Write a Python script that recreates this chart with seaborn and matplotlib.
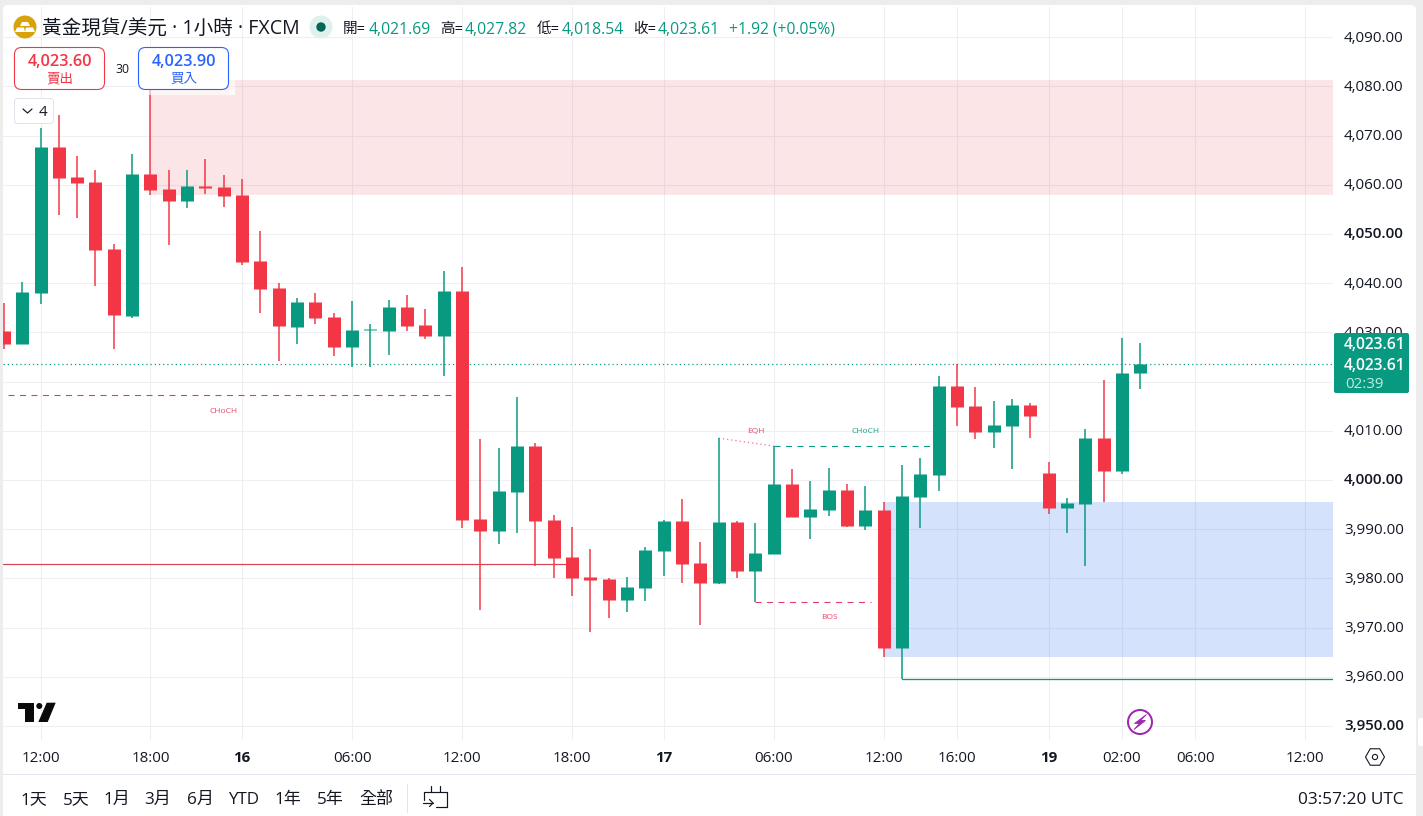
import matplotlib
matplotlib.use("Agg")
import matplotlib.pyplot as plt
from matplotlib.patches import Circle, FancyBboxPatch, Polygon, Rectangle
from matplotlib.transforms import ScaledTranslation
import numpy as np
import pandas as pd
import seaborn as sns

# Hourly XAU/USD candles
opens = [4030.3, 4027.6, 4038.1, 4067.7, 4061.6, 4060.6, 4046.9, 4033.3, 4062.2, 4059.1,
         4056.7, 4059.8, 4059.6, 4057.9, 4044.5, 4039.0, 4031.1, 4036.2, 4033.1, 4027.0,
         4030.4, 4030.3, 4035.2, 4031.5, 4029.3, 4038.4, 3992.1, 3989.6, 3997.6, 4006.9,
         3991.9, 3984.3, 3980.3, 3979.9, 3975.6, 3978.0, 3985.6, 3991.7, 3983.1, 3979.1,
         3991.5, 3981.5, 3985.0, 3999.2, 3992.5, 3993.9, 3998.0, 3990.7, 3993.9, 3965.9,
         3996.5, 4001.0, 4019.1, 4015.0, 4009.8, 4011.0, 4015.2, 4001.4, 3994.3, 3995.1,
         4008.5, 4001.8, 4021.69]
highs = [4036.0, 4040.2, 4071.5, 4074.2, 4065.9, 4063.0, 4048.0, 4066.3, 4079.3, 4063.0,
         4063.0, 4065.2, 4062.0, 4061.2, 4050.6, 4040.0, 4037.0, 4038.0, 4033.9, 4036.4,
         4031.7, 4036.6, 4037.6, 4034.8, 4042.5, 4043.3, 4008.3, 4006.5, 4016.9, 4007.5,
         3992.9, 3990.4, 3986.0, 3980.1, 3980.3, 3986.4, 3991.9, 3996.1, 3987.4, 4008.5,
         3991.7, 3991.3, 4006.9, 4002.2, 3999.8, 4002.4, 3999.2, 3998.8, 3995.5, 4003.0,
         4004.5, 4021.1, 4023.6, 4018.9, 4016.1, 4016.5, 4015.6, 4003.7, 3996.3, 4010.4,
         4020.3, 4028.9, 4027.82]
lows = [4026.6, 4027.6, 4035.8, 4053.9, 4053.3, 4039.4, 4026.6, 4033.0, 4057.9, 4047.8,
        4055.3, 4058.1, 4055.5, 4043.7, 4034.0, 4024.2, 4027.6, 4031.7, 4025.2, 4023.0,
        4023.0, 4025.4, 4030.3, 4028.7, 4021.2, 3990.2, 3973.6, 3987.0, 3989.2, 3982.5,
        3980.1, 3976.4, 3969.1, 3972.0, 3973.2, 3975.4, 3980.5, 3979.1, 3970.5, 3978.9,
        3980.1, 3975.2, 3985.0, 3992.5, 3988.0, 3992.7, 3990.4, 3989.8, 3964.0, 3959.6,
        3990.2, 3997.8, 4011.0, 4008.3, 4006.5, 4002.2, 4008.5, 3993.1, 3989.2, 3982.5,
        3995.5, 4001.2, 4018.54]
closes = [4027.6, 4038.2, 4067.7, 4061.4, 4060.4, 4046.8, 4033.6, 4062.2, 4058.9, 4056.7,
          4059.8, 4059.3, 4057.7, 4044.4, 4038.8, 4031.2, 4036.2, 4033.0, 4027.0, 4030.5,
          4030.6, 4035.2, 4031.3, 4029.3, 4038.4, 3991.9, 3989.6, 3997.8, 4006.9, 3991.7,
          3984.1, 3980.1, 3979.7, 3975.6, 3978.3, 3985.8, 3991.7, 3982.9, 3979.1, 3991.5,
          3981.5, 3985.2, 3999.2, 3992.5, 3994.1, 3998.0, 3990.7, 3993.9, 3965.9, 3996.7,
          4001.2, 4019.1, 4014.8, 4009.8, 4011.2, 4015.2, 4013.0, 3994.3, 3995.3, 4008.5,
          4001.8, 4021.7, 4023.61]
candle_is_up = [False, True, True, False, False, False, False, True, False, False,
                True, False, False, False, False, False, True, False, False, True,
                True, True, False, False, True, False, False, True, True, False,
                False, False, False, False, True, True, True, False, False, True,
                False, True, True, False, True, True, False, True, False, True,
                True, True, False, False, True, True, False, False, True, True,
                False, True, True]

# Time axis labels, placed on candle slots
time_slots = [2, 8, 13, 19, 25, 31, 36, 42, 48, 52, 57, 61, 65, 71]
time_labels = ["12:00", "18:00", "16", "06:00", "12:00", "18:00", "17", "06:00",
               "12:00", "16:00", "19", "02:00", "06:00", "12:00"]
bold_time_labels = ["16", "17", "19"]

price_ticks = [3950, 3960, 3970, 3980, 3990, 4000, 4010, 4020, 4030, 4040, 4050, 4060, 4070, 4080, 4090]
bold_price_ticks = [3950, 4000, 4050]
# This level sits underneath the last price badge
covered_price_ticks = [4020]

# Supply and demand zones (first slot, low, high)
supply_zone = (8, 4057.9, 4081.4)
demand_zone = (48, 3964.0, 3995.5)

last_price = 4023.61

RED = "#F23645"
GREEN = "#089981"
BLUE = "#2962FF"
INK = "#131722"
GRID = "#EDEFF3"
BORDER = "#E0E3EB"
FONT = ["Open Sans", "Noto Sans CJK TC", "DejaVu Sans"]

sns.set_theme(style="white")
plt.rcParams["font.family"] = FONT
plt.rcParams["lines.scale_dashes"] = False

W, H = 1423, 816
fig = plt.figure(figsize=(W / 100, H / 100), dpi=100, facecolor="#EDEDED")


def px(n):
    return n * 0.72


# White chart panel behind everything
panel = fig.add_axes([0, 0, 1, 1], zorder=0)
panel.set_xlim(0, W)
panel.set_ylim(H, 0)
panel.axis("off")
panel.add_patch(FancyBboxPatch((3, 5), 1413, 830, boxstyle="round,pad=0,rounding_size=5",
                               fc="white", ec="none"))
panel.add_patch(FancyBboxPatch((1418, 718), 12, 28, boxstyle="round,pad=0,rounding_size=3",
                               fc="white", ec="none"))

# Price pane
L, R, T, B = 3, 1333, 7, 740
ax = fig.add_axes([L / W, 1 - B / H, (R - L) / W, (B - T) / H], zorder=1)
ax.patch.set_alpha(0)
ax.set_xlim(-0.046, 72.51)
ax.set_ylim(3947.15, 4096.14)
for s in ax.spines.values():
    s.set_visible(False)

ax.set_yticks(price_ticks)
ax.set_yticklabels(["" if p in covered_price_ticks else f"{p:,.2f}" for p in price_ticks],
                   fontsize=10.9, color=INK)
ax.yaxis.tick_right()
ax.tick_params(axis="y", length=0, pad=px(11))
nudge_up = ScaledTranslation(0, 1 / 100, fig.dpi_scale_trans)
for lab, p in zip(ax.get_yticklabels(), price_ticks):
    lab.set_verticalalignment("center_baseline")
    lab.set_transform(lab.get_transform() + nudge_up)
    if p in bold_price_ticks:
        lab.set_fontweight("semibold")

ax.set_xticks(time_slots)
ax.set_xticklabels(time_labels, fontsize=10.9, color=INK)
ax.tick_params(axis="x", length=0, pad=px(11))
for lab in ax.get_xticklabels():
    if lab.get_text() in bold_time_labels:
        lab.set_fontweight("bold")
ax.grid(True, color=GRID, lw=px(1.1), zorder=0)
ax.set_axisbelow(True)

x_end = ax.get_xlim()[1]
x_start = ax.get_xlim()[0]

# Zones
ax.fill_between([supply_zone[0], x_end], supply_zone[1], supply_zone[2],
                color="#EB3A42", alpha=0.13, lw=0, zorder=1)
ax.fill_between([demand_zone[0], x_end], demand_zone[1], demand_zone[2],
                color="#286EF0", alpha=0.2, lw=0, zorder=1)

# Market structure lines
dash = (0, (px(6), px(5.5)))
dots = (0, (px(1.3), px(2.9)))
ax.plot([0.2, 24.6], [4017.2, 4017.2], color="#DF3B66", lw=px(1.1), ls=dash, zorder=2)
ax.plot([x_start, 31], [3983.0, 3983.0], color="#DB4254", lw=px(1.2), zorder=2)
ax.plot([39, 42], [4008.5, 4006.9], color="#EE7F96", lw=px(1.3), ls=dots, zorder=2)
ax.plot([42, 51], [4006.9, 4006.9], color=GREEN, lw=px(1.1), ls=dash, zorder=2)
ax.plot([41, 47.3], [3975.1, 3975.1], color="#DF3B66", lw=px(1.1), ls=dash, zorder=2)
ax.plot([49, x_end], [3959.6, 3959.6], color=GREEN, lw=px(1.3), zorder=2)
ax.plot([x_start, x_end], [last_price, last_price], color=GREEN, lw=px(1.2), ls=dots, zorder=2)

for slot, price, text, col in [(11.97, 4013.9, "CHoCH", "#E5476B"), (41.03, 4009.9, "EQH", "#E5476B"),
                               (47, 4009.9, "CHoCH", "#1E9E85"), (45.05, 3972.1, "BOS", "#E5476B")]:
    ax.text(slot, price, text, color=col, fontsize=6.0, ha="center", va="center", zorder=2)

# Candles: wicks and bodies as short vertical seaborn lines
slots = np.arange(len(opens))
direction = ["up" if u else "down" for u in candle_is_up]
palette = {"up": GREEN, "down": RED}
wicks = pd.DataFrame({"slot": np.r_[slots, slots], "price": np.r_[highs, lows],
                      "dir": direction * 2})
bodies = pd.DataFrame({"slot": np.r_[slots, slots], "price": np.r_[opens, closes],
                       "dir": direction * 2})
sns.lineplot(data=wicks, x="slot", y="price", hue="dir", units="slot", estimator=None,
             palette=palette, lw=px(1.5), legend=False, ax=ax, zorder=3,
             solid_capstyle="butt", sort=False)
sns.lineplot(data=bodies, x="slot", y="price", hue="dir", units="slot", estimator=None,
             palette=palette, lw=px(13), legend=False, ax=ax, zorder=4,
             solid_capstyle="butt", sort=False)
ax.set_xlabel("")
ax.set_ylabel("")

# Interface layer in pixel units
ui = fig.add_axes([0, 0, 1, 1], zorder=5)
ui.set_xlim(0, W)
ui.set_ylim(H, 0)
ui.axis("off")
ui.patch.set_alpha(0)


def label(x, y, s, size=14, color=INK, ha="left", weight="normal", alpha=1.0):
    ui.text(x, y, s, fontsize=px(size), color=color, ha=ha, va="center_baseline",
            fontweight=weight, alpha=alpha)


# Title row
ui.add_patch(Circle((25, 27), 11.5, fc="#D9A20B", ec="none"))
ui.add_patch(Polygon([(22, 22), (28, 22), (30, 26), (20, 26)], fc="white", ec="none"))
ui.add_patch(Polygon([(17, 27.5), (24, 27.5), (25, 32), (15, 32)], fc="white", ec="none"))
ui.add_patch(Polygon([(26, 27.5), (33, 27.5), (35, 32), (25, 32)], fc="white", ec="none"))
label(42, 27, "黃金現貨/美元 · 1小時 · FXCM", size=19.6)
ui.add_patch(Circle((321, 27), 11.5, fc="#DFF1EC", ec="none"))
ui.add_patch(Circle((321, 27), 4.7, fc="#056656", ec="none"))
for x_name, name, x_val, val in [(343, "開=", 369, "4,021.69"), (440, "高=", 465, "4,027.82"),
                                 (537, "低=", 562, "4,018.54"), (633, "收=", 658, "4,023.61")]:
    label(x_name, 27.5, name, size=14.6)
    label(x_val, 27.5, val, size=15.8, color=GREEN)
label(729, 27.5, "+1.92 (+0.05%)", size=15.6, color=GREEN)

# Buy and sell buttons
ui.add_patch(Rectangle((229, 79), 6, 16, fc="white", ec="none", alpha=0.6))
ui.add_patch(Rectangle((134, 90), 101, 5, fc="white", ec="none", alpha=0.6))
for x0, edge, price, caption in [(14.5, RED, "4,023.60", "賣出"), (138.5, BLUE, "4,023.90", "買入")]:
    ui.add_patch(FancyBboxPatch((x0, 47.5), 90, 42, boxstyle="round,pad=0,rounding_size=7",
                                fc="white", ec=edge, lw=px(1.1)))
    label(x0 + 45, 60, price, size=16.2, color=edge, ha="center", weight="semibold")
    label(x0 + 45, 77, caption, size=13.5, color=edge, ha="center")
label(122, 68, "30", size=12.2, ha="center")

# Collapse button for the indicator list
ui.add_patch(FancyBboxPatch((14.5, 98.5), 39, 25, boxstyle="round,pad=0,rounding_size=3",
                            fc="white", ec=BORDER, lw=px(1)))
ui.plot([23, 27.5, 32], [109, 113, 109], color=INK, lw=px(1.2))
label(43, 111, "4", size=15, ha="center")

# Last price badge
ui.add_patch(FancyBboxPatch((1334, 333), 75, 60, boxstyle="round,pad=0,rounding_size=2",
                            fc=GREEN, ec="none"))
label(1375, 343, "4,023.61", size=15.6, color="white", ha="center", weight="semibold")
label(1375, 364, "4,023.61", size=15.6, color="white", ha="center", weight="semibold")
label(1345, 382, "02:39", size=15, color="#C4EDE3")

# Brand mark
ui.add_patch(Polygon([(18, 702.7), (34.3, 702.7), (34.3, 722), (25, 722), (25, 709.3), (18, 709.3)],
                     fc="#0B0B0B", ec="none"))
ui.add_patch(Circle((39.3, 706), 3, fc="#0B0B0B", ec="none"))
ui.add_patch(Polygon([(46.7, 702.7), (55.7, 702.7), (47.7, 722), (38.3, 722)], fc="#0B0B0B", ec="none"))

# Session marker
ui.add_patch(Circle((1140, 722), 12, fc="white", ec="#9C27B0", lw=px(2)))
ui.add_patch(Polygon([(1146.5, 714.5), (1134.5, 723.5), (1139.5, 723.5), (1134, 729.5), (1145.5, 720.5), (1140.5, 720.5)],
                     fc="#9C27B0", ec="#9C27B0", lw=px(0.8)))

# Axis settings icon
angles = np.deg2rad(np.arange(0, 360, 60))
ui.add_patch(Polygon(np.c_[1375 + 9.5 * np.cos(angles), 757 + 9.5 * np.sin(angles)],
                     fc="none", ec=INK, lw=px(1.1)))
ui.add_patch(Circle((1375, 757), 2.6, fc="none", ec=INK, lw=px(1.1)))

# Bottom toolbar
ui.plot([3, 1416], [773.5, 773.5], color=BORDER, lw=px(1))
for x, s in zip([34, 76, 117, 158, 200, 244, 288, 330, 376],
                ["1天", "5天", "1月", "3月", "6月", "YTD", "1年", "5年", "全部"]):
    label(x, 798, s, size=17, ha="center")
ui.plot([406.5, 406.5], [784, 812], color=BORDER, lw=px(1))
ui.plot([424, 424, 447, 447, 436], [800, 792, 792, 807, 807], color=INK, lw=px(1.2))
ui.plot([431, 431], [786, 792], color=INK, lw=px(1.2))
ui.plot([440, 440], [786, 792], color=INK, lw=px(1.2))
ui.plot([423, 433], [803, 803], color=INK, lw=px(1.2))
ui.plot([429.5, 433, 429.5], [799.5, 803, 806.5], color=INK, lw=px(1.2))
label(1403, 798, "03:57:20 UTC", size=17.2, ha="right")

fig.savefig("out.png", dpi=100, facecolor=fig.get_facecolor())
